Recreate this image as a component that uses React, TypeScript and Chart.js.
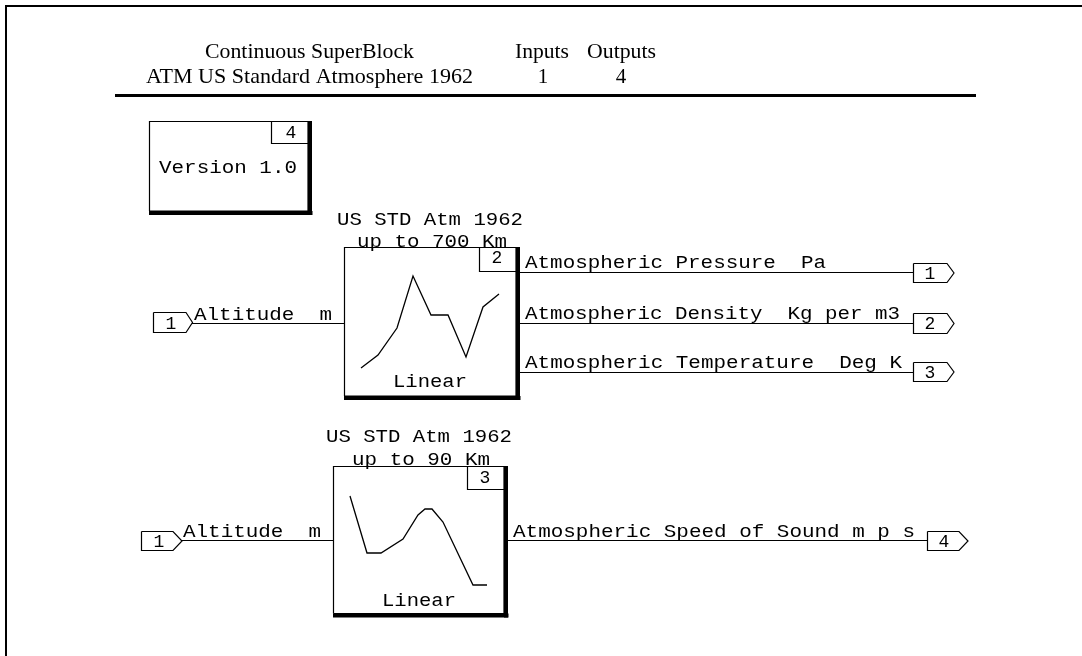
import React, { useEffect, useRef } from "react";
import { Chart, registerables } from "chart.js";

Chart.register(...registerables);

// Diagram units: the x and y scales run over the sheet, 0-1082 and 0-656.
const headerTitle = ["Continuous SuperBlock", "ATM US Standard Atmosphere 1962"];
const headerColumns = ["Inputs", "Outputs"];
const headerCounts = ["1", "4"];
const noteText = "Version 1.0";
const blockTitles = [
  ["US STD Atm 1962", "up to 700 Km"],
  ["US STD Atm 1962", "up to 90 Km"],
];
const blockKind = "Linear";
const blockIds = ["4", "2", "3"];
const inputLabel = "Altitude  m";
const outputLabels = [
  "Atmospheric Pressure  Pa",
  "Atmospheric Density  Kg per m3",
  "Atmospheric Temperature  Deg K",
  "Atmospheric Speed of Sound m p s",
];
const outputIds = ["1", "2", "3", "4"];
const inputIds = ["1", "1"];

const curveUpperX = [361, 378, 397, 413, 431, 448, 466, 483, 499];
const curveUpperY = [368, 355, 328, 276, 315, 315, 357, 307, 294];
const curveLowerX = [350, 367, 381, 403, 418, 425, 432, 443, 473, 487];
const curveLowerY = [496, 553, 553, 539, 515, 509, 509, 522, 585, 585];

// Layout, separate from the content above.
type Box = { l: number; t: number; r: number; b: number; idL: number; idB: number };
const boxes: Box[] = [
  { l: 149.5, t: 121.5, r: 308, b: 211, idL: 271.5, idB: 143.5 },
  { l: 344.5, t: 247.5, r: 516, b: 396, idL: 479.5, idB: 271.5 },
  { l: 333.5, t: 466.5, r: 504, b: 613.5, idL: 467.5, idB: 489.5 },
];
const THICK = 5;
const THIN = 1.2;

type Path = { xs: number[]; ys: number[]; w: number };
const paths: Path[] = [];
const add = (xs: number[], ys: number[], w = THIN) => paths.push({ xs, ys, w });

add([6, 6, 1082], [656, 6, 6], 2);
add([115, 976], [95.5, 95.5], 3);

boxes.forEach((b) => {
  add([b.l, b.r, b.r], [b.b, b.b, b.t]);
  add([b.l, b.l, b.r], [b.b, b.t, b.t]);
  add([b.l - 0.5, b.r + THICK - 0.5], [b.b + 2, b.b + 2], THICK - 1);
  add([b.r + 2, b.r + 2], [b.t - 0.5, b.b + THICK - 1], THICK - 1);
  add([b.idL, b.idL, b.r], [b.t, b.idB, b.idB]);
});

const portIn = (l: number, s: number, tip: number, t: number, b: number) =>
  add([l, s, tip, s, l, l], [t, t, (t + b) / 2, b, b, t]);

portIn(153.5, 186, 192.5, 312.5, 332.5);
portIn(141.5, 173, 182, 531.5, 550.5);
portIn(913.5, 947, 954, 263.5, 282.5);
portIn(913.5, 947, 954, 313.5, 333.5);
portIn(913.5, 947, 954, 362.5, 381.5);
portIn(927.5, 959, 968, 531.5, 550.5);

add([192, 344], [323.5, 323.5]);
add([519, 913], [272.5, 272.5]);
add([519, 913], [323.5, 323.5]);
add([519, 913], [372.5, 372.5]);
add([182, 333], [540.5, 540.5]);
add([507, 927], [540.5, 540.5]);
add(curveUpperX, curveUpperY, 1.3);
add(curveLowerX, curveLowerY, 1.3);

type Label = { text: string; x: number; y: number; w: number; serif?: boolean; center?: boolean };
const labels: Label[] = [
  { text: headerTitle[0], x: 205, y: 58, w: 209, serif: true },
  { text: headerTitle[1], x: 146, y: 83, w: 327, serif: true },
  { text: headerColumns[0], x: 515, y: 58, w: 54, serif: true },
  { text: headerColumns[1], x: 587, y: 58, w: 69, serif: true },
  { text: headerCounts[0], x: 543, y: 83, w: 0, serif: true, center: true },
  { text: headerCounts[1], x: 621, y: 83, w: 0, serif: true, center: true },
  { text: noteText, x: 159, y: 173, w: 138 },
  { text: blockIds[0], x: 291, y: 138, w: 0, center: true },
  { text: blockIds[1], x: 497, y: 263, w: 0, center: true },
  { text: blockIds[2], x: 485, y: 483, w: 0, center: true },
  { text: blockTitles[0][0], x: 337, y: 225, w: 186 },
  { text: blockTitles[0][1], x: 357, y: 247, w: 150 },
  { text: blockTitles[1][0], x: 326, y: 442, w: 186 },
  { text: blockTitles[1][1], x: 352, y: 465, w: 138 },
  { text: blockKind, x: 393, y: 387, w: 74 },
  { text: blockKind, x: 382, y: 606, w: 74 },
  { text: inputLabel, x: 194, y: 320, w: 138 },
  { text: inputLabel, x: 183, y: 537, w: 138 },
  { text: outputLabels[0], x: 525, y: 268, w: 301 },
  { text: outputLabels[1], x: 525, y: 319, w: 375 },
  { text: outputLabels[2], x: 525, y: 368, w: 377 },
  { text: outputLabels[3], x: 513, y: 537, w: 402 },
  { text: inputIds[0], x: 171, y: 329, w: 0, center: true },
  { text: inputIds[1], x: 159, y: 547, w: 0, center: true },
  { text: outputIds[0], x: 930, y: 279, w: 0, center: true },
  { text: outputIds[1], x: 930, y: 329, w: 0, center: true },
  { text: outputIds[2], x: 930, y: 378, w: 0, center: true },
  { text: outputIds[3], x: 944, y: 547, w: 0, center: true },
];

const labelPlugin = {
  id: "diagramLabels",
  afterDatasetsDraw(chart: any) {
    const { ctx, scales } = chart;
    ctx.save();
    ctx.fillStyle = "#000";
    ctx.textBaseline = "alphabetic";
    labels.forEach((l) => {
      ctx.font = l.serif ? '21px "Liberation Serif"' : '18px "Liberation Mono"';
      const px = scales.x.getPixelForValue(l.x);
      const py = scales.y.getPixelForValue(l.y);
      if (l.center) {
        ctx.textAlign = "center";
        ctx.fillText(l.text, px, py);
      } else {
        ctx.textAlign = "left";
        const natural = ctx.measureText(l.text).width;
        ctx.save();
        ctx.translate(px, py);
        ctx.scale(l.w / natural, 1);
        ctx.fillText(l.text, 0, 0);
        ctx.restore();
      }
    });
    ctx.restore();
  },
};

export default function App() {
  const ref = useRef<HTMLCanvasElement>(null);
  useEffect(() => {
    if (!ref.current) return;
    const chart = new Chart(ref.current, {
      type: "scatter",
      data: {
        datasets: paths.map((p) => ({
          data: p.xs.map((x, i) => ({ x, y: p.ys[i] })),
          showLine: true,
          borderColor: "#000",
          borderWidth: p.w,
          pointRadius: 0,
          borderJoinStyle: "miter" as const,
          tension: 0,
          fill: false,
        })),
      },
      options: {
        responsive: false,
        animation: false,
        layout: { padding: 0 },
        events: [],
        scales: {
          x: { type: "linear", min: 0, max: 1082, display: false },
          y: { type: "linear", min: 0, max: 656, reverse: true, display: false },
        },
        plugins: { legend: { display: false }, tooltip: { enabled: false } },
      },
      plugins: [labelPlugin],
    });
    return () => chart.destroy();
  }, []);
  return (
    <div style={{ position: "absolute", left: 0, top: 0, width: 1082, height: 656, background: "#fff" }}>
      <canvas ref={ref} width={1082} height={656} style={{ display: "block" }} />
    </div>
  );
}
